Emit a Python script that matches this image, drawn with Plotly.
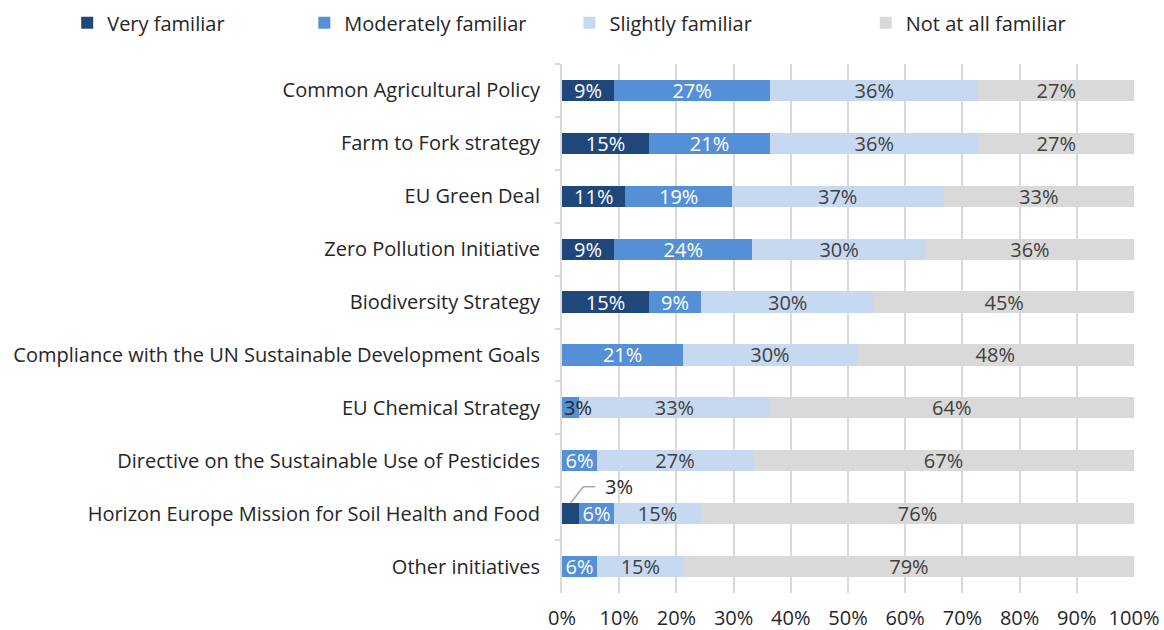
import plotly.graph_objects as go

categories = [
    "Common Agricultural Policy",
    "Farm to Fork strategy",
    "EU Green Deal",
    "Zero Pollution Initiative",
    "Biodiversity Strategy",
    "Compliance with the UN Sustainable Development Goals",
    "EU Chemical Strategy",
    "Directive on the Sustainable Use of Pesticides",
    "Horizon Europe Mission for Soil Health and Food",
    "Other initiatives",
]
very = [9.1, 15.2, 11.1, 9.1, 15.2, 0, 0, 0, 3.0, 0]
moderately = [27.3, 21.2, 18.6, 24.2, 9.1, 21.2, 3.0, 6.1, 6.1, 6.1]
slightly = [36.4, 36.4, 37.0, 30.3, 30.3, 30.3, 33.3, 27.3, 15.2, 15.2]
not_at_all = [27.2, 27.2, 33.3, 36.4, 45.4, 48.5, 63.7, 66.6, 75.7, 78.7]
series_names = ["Very familiar", "Moderately familiar", "Slightly familiar", "Not at all familiar"]
tick_vals = [0, 10, 20, 30, 40, 50, 60, 70, 80, 90, 100]
tick_text = [f"{v}%" for v in tick_vals]

colors = ["#1F477A", "#5590D6", "#C6D9F0", "#D9D9D9"]
text_colors = ["#FFFFFF", "#FFFFFF", "#404040", "#404040"]
FONT = "Open Sans"
FS = 20

# labels handled separately (too small to fit inside their bar)
special = {("Very familiar", 8), ("Moderately familiar", 6)}

fig = go.Figure()
all_series = [very, moderately, slightly, not_at_all]
legend_ids = ["legend", "legend2", "legend3", "legend4"]
for i, (name, vals) in enumerate(zip(series_names, all_series)):
    txt = []
    for j, v in enumerate(vals):
        if v <= 0 or (name, j) in special:
            txt.append("")
        else:
            txt.append(f"{round(v)}%")
    fig.add_trace(go.Bar(
        y=categories, x=vals, name=name, orientation="h",
        marker=dict(color=colors[i], line=dict(width=0)),
        text=txt, textposition="inside", insidetextanchor="middle",
        textfont=dict(color=text_colors[i], size=FS, family=FONT),
        width=0.4, legend=legend_ids[i], hoverinfo="skip",
    ))

# Special labels
fig.add_annotation(x=0, y=categories[6], xref="x", yref="y",
                   text=f"{round(moderately[6])}%", showarrow=False,
                   xanchor="left", xshift=0,
                   font=dict(color="#262626", size=FS, family=FONT))
# leader line for the small "Very familiar" value of the Horizon row
row = 8
x_start = very[row] / 2
fig.add_shape(type="line", xref="x", yref="y",
              x0=x_start, y0=row - 0.2, x1=x_start + 2.2, y1=row - 0.51,
              line=dict(color="#A6A6A6", width=1.5))
fig.add_shape(type="line", xref="x", yref="y",
              x0=x_start + 2.2, y0=row - 0.51, x1=x_start + 4.3, y1=row - 0.51,
              line=dict(color="#A6A6A6", width=1.5))
fig.add_annotation(x=x_start + 5.6, y=row - 0.51, xref="x", yref="y",
                   xanchor="left", text=f"{round(very[row])}%", showarrow=False,
                   font=dict(color="#262626", size=FS, family=FONT))

legend_x = [-0.865, -0.4505, 0.013, 0.531]
for lid, lx in zip(legend_ids, legend_x):
    fig.update_layout({lid: dict(
        x=lx, y=1.078, xanchor="left", yanchor="middle", orientation="h",
        font=dict(size=FS, family=FONT, color="#262626"),
        bgcolor="rgba(0,0,0,0)", itemclick=False, itemdoubleclick=False,
    )})

fig.update_layout(
    barmode="stack",
    width=1164, height=630,
    margin=dict(l=562, r=30, t=64, b=37, autoexpand=False),
    paper_bgcolor="white", plot_bgcolor="white",
    font=dict(family=FONT, size=FS, color="#262626"),
    showlegend=True,
    uniformtext=dict(minsize=FS, mode="show"),
    xaxis=dict(range=[0, 100], tickvals=tick_vals, ticktext=tick_text,
               showgrid=True, gridcolor="#D9D9D9", gridwidth=2,
               zeroline=False, showline=False, ticks="",
               tickfont=dict(size=FS, family=FONT, color="#262626"),
               ticklabelstandoff=11, fixedrange=True, automargin=False),
    yaxis=dict(autorange="reversed", showgrid=False, showline=True,
               linecolor="#D9D9D9", linewidth=2, ticks="outside",
               tickson="boundaries", ticklen=5, tickcolor="#D9D9D9", tickwidth=2,
               tickfont=dict(size=FS, family=FONT, color="#262626"),
               ticklabelstandoff=16, fixedrange=True, automargin=False),
)

fig.write_html("out.html", config={"displayModeBar": False},
               post_script="document.body.style.margin='0';")
